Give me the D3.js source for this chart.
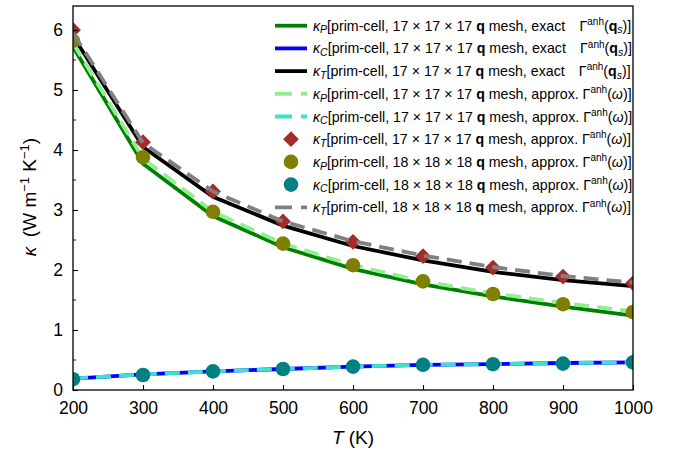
<!DOCTYPE html>
<html><head><meta charset="utf-8">
<script src="https://cdn.jsdelivr.net/npm/d3@7/dist/d3.min.js"></script>
<style>body{margin:0;background:#fff}svg{display:block}text{font-family:"Liberation Sans",Arial,sans-serif}</style>
</head><body><svg id="c" width="681" height="450"></svg>
<script>
const temps = [200, 300, 400, 500, 600, 700, 800, 900, 1000];
const xTicks = [200, 300, 400, 500, 600, 700, 800, 900, 1000];
const yTicks = [0, 1, 2, 3, 4, 5, 6];
const kP17exact = [5.72, 3.77, 2.90, 2.38, 2.02, 1.76, 1.56, 1.39, 1.24];
const kC17exact = [0.19, 0.26, 0.31, 0.35, 0.39, 0.42, 0.43, 0.45, 0.46];
const kT17exact = [5.90, 4.05, 3.22, 2.74, 2.40, 2.16, 1.97, 1.83, 1.73];
const kP17approx = [5.78, 3.86, 2.97, 2.44, 2.08, 1.81, 1.61, 1.45, 1.31];
const kC17approx = [0.19, 0.26, 0.31, 0.35, 0.39, 0.42, 0.43, 0.45, 0.46];
const kT17approx = [6.00, 4.13, 3.31, 2.81, 2.47, 2.23, 2.04, 1.89, 1.78];
const kP18approx = [5.82, 3.88, 2.97, 2.44, 2.08, 1.81, 1.60, 1.43, 1.30];
const kC18approx = [0.18, 0.25, 0.31, 0.35, 0.39, 0.42, 0.43, 0.44, 0.46];
const kT18approx = [5.95, 4.12, 3.31, 2.81, 2.48, 2.24, 2.05, 1.90, 1.79];

const series = [
  {sub:"P", mesh:17, kind:"exact", data:kP17exact, type:"line", color:"#008000"},
  {sub:"C", mesh:17, kind:"exact", data:kC17exact, type:"line", color:"#0000ff"},
  {sub:"T", mesh:17, kind:"exact", data:kT17exact, type:"line", color:"#000000"},
  {sub:"P", mesh:17, kind:"approx", data:kP17approx, type:"dash", color:"#90ee90"},
  {sub:"C", mesh:17, kind:"approx", data:kC17approx, type:"dash", color:"#40e0d0"},
  {sub:"T", mesh:17, kind:"approx", data:kT17approx, type:"diamond", color:"#a52a2a"},
  {sub:"P", mesh:18, kind:"approx", data:kP18approx, type:"circle", color:"#808000"},
  {sub:"C", mesh:18, kind:"approx", data:kC18approx, type:"circle", color:"#008080"},
  {sub:"T", mesh:18, kind:"approx", data:kT18approx, type:"dash", color:"#808080"}
];

const L = 73, R = 633, Tp = 6, B = 390;
const svg = d3.select("#c");
const x = d3.scaleLinear().domain([200, 1000]).range([L, R]);
const y = d3.scaleLinear().domain([0, 6.4]).range([B, Tp]);

svg.append("clipPath").attr("id","clip").append("rect")
  .attr("x",L).attr("y",Tp).attr("width",R-L).attr("height",B-Tp);
const g = svg.append("g").attr("clip-path","url(#clip)");
const line = d3.line().x((d,i)=>x(temps[i])).y(d=>y(d));
const LW = 3.8, DASH = "15,8";
const diamond = d3.symbol().type(d3.symbolSquare).size(125);

series.forEach(s => {
  if (s.type === "line" || s.type === "dash") {
    g.append("path").attr("d", line(s.data)).attr("fill","none")
      .attr("stroke", s.color).attr("stroke-width", LW)
      .attr("stroke-dasharray", s.type === "dash" ? DASH : null);
  } else if (s.type === "circle") {
    g.selectAll(null).data(s.data).enter().append("circle")
      .attr("cx",(d,i)=>x(temps[i])).attr("cy",d=>y(d)).attr("r",7.3).attr("fill",s.color);
  } else {
    g.selectAll(null).data(s.data).enter().append("path").attr("d", diamond)
      .attr("transform",(d,i)=>`translate(${x(temps[i])},${y(d)}) rotate(45)`).attr("fill",s.color);
  }
});

// axes frame
svg.append("rect").attr("x",L).attr("y",Tp).attr("width",R-L).attr("height",B-Tp)
  .attr("fill","none").attr("stroke","#000").attr("stroke-width",1.3);

const FF = "Liberation Sans";
const xAxis = svg.append("g").attr("transform",`translate(0,${B})`)
  .call(d3.axisBottom(x).tickValues(xTicks).tickSizeInner(-5).tickSizeOuter(0).tickPadding(12).tickFormat(d3.format("d")));
xAxis.select(".domain").remove();
xAxis.selectAll("line").attr("stroke-width",1.1);
xAxis.selectAll("text").attr("font-size",17.5).attr("fill","#000").attr("font-family",FF);

const yAxis = svg.append("g").attr("transform",`translate(${L},0)`)
  .call(d3.axisLeft(y).tickValues(yTicks).tickSizeInner(-5).tickSizeOuter(0).tickPadding(10).tickFormat(d3.format("d")));
yAxis.select(".domain").remove();
yAxis.selectAll("line").attr("stroke-width",1.1);
yAxis.selectAll("text").attr("font-size",17.5).attr("fill","#000").attr("font-family",FF);
const minorY = d3.range(0.5, 6.4, 1);
svg.append("g").selectAll("line").data(minorY).enter().append("line")
  .attr("x1",L).attr("x2",L+3).attr("y1",d=>y(d)).attr("y2",d=>y(d)).attr("stroke","#000").attr("stroke-width",0.9);

// axis labels
const xl = svg.append("text").attr("x",353).attr("y",444).attr("text-anchor","middle").attr("font-size",19);
xl.append("tspan").attr("font-style","italic").text("T");
xl.append("tspan").text(" (K)");

const yl = svg.append("text").attr("transform","translate(36,197) rotate(-90)").attr("text-anchor","middle").attr("font-size",19);
yl.append("tspan").attr("font-style","italic").text("κ");
yl.append("tspan").text("\u2002(W m");
yl.append("tspan").attr("font-size",13).attr("dy",-7).text("−1");
yl.append("tspan").attr("dy",7).text(" K");
yl.append("tspan").attr("font-size",13).attr("dy",-7).text("−1");
yl.append("tspan").attr("dy",7).text(")");

// legend
const lg = svg.append("g");
const rowY = i => 25.7 + i*22.7;
const lx1 = 275, lx2 = 307, tx = 313;
series.forEach((s,i) => {
  const cy = rowY(i);
  if (s.type === "line") {
    lg.append("line").attr("x1",lx1).attr("x2",lx2).attr("y1",cy).attr("y2",cy).attr("stroke",s.color).attr("stroke-width",LW);
  } else if (s.type === "dash") {
    lg.append("line").attr("x1",lx1).attr("x2",lx2).attr("y1",cy).attr("y2",cy).attr("stroke",s.color).attr("stroke-width",LW).attr("stroke-dasharray","17,9");
  } else if (s.type === "circle") {
    lg.append("circle").attr("cx",(lx1+lx2)/2).attr("cy",cy).attr("r",7.3).attr("fill",s.color);
  } else {
    lg.append("path").attr("d",diamond).attr("transform",`translate(${(lx1+lx2)/2},${cy}) rotate(45)`).attr("fill",s.color);
  }
  const t = lg.append("text").attr("x",tx).attr("y",cy+5).attr("font-size",14.2).attr("xml:space","preserve");
  t.append("tspan").attr("font-style","italic").text("κ");
  t.append("tspan").attr("font-style","italic").attr("font-size",10.5).attr("dy",2.7).text(s.sub);
  t.append("tspan").attr("dy",-2.7).text(`[prim-cell, ${s.mesh} × ${s.mesh} × ${s.mesh} `);
  t.append("tspan").attr("font-weight","bold").text("q");
  if (s.kind === "exact") {
    t.append("tspan").text(" mesh, exact\u2002\u2002Γ");
  } else {
    t.append("tspan").text(" mesh, approx. Γ");
  }
  t.append("tspan").attr("font-size",10).attr("dy",-5.8).text("anh");
  t.append("tspan").attr("dy",5.8).text("(");
  if (s.kind === "exact") {
    t.append("tspan").attr("font-weight","bold").text("q");
    t.append("tspan").attr("font-style","italic").attr("font-size",10.5).attr("dy",2.7).text("s");
    t.append("tspan").attr("dy",-2.7).text(")]");
  } else {
    t.append("tspan").attr("font-style","italic").text("ω");
    t.append("tspan").text(")]");
  }
});
</script></body></html>
